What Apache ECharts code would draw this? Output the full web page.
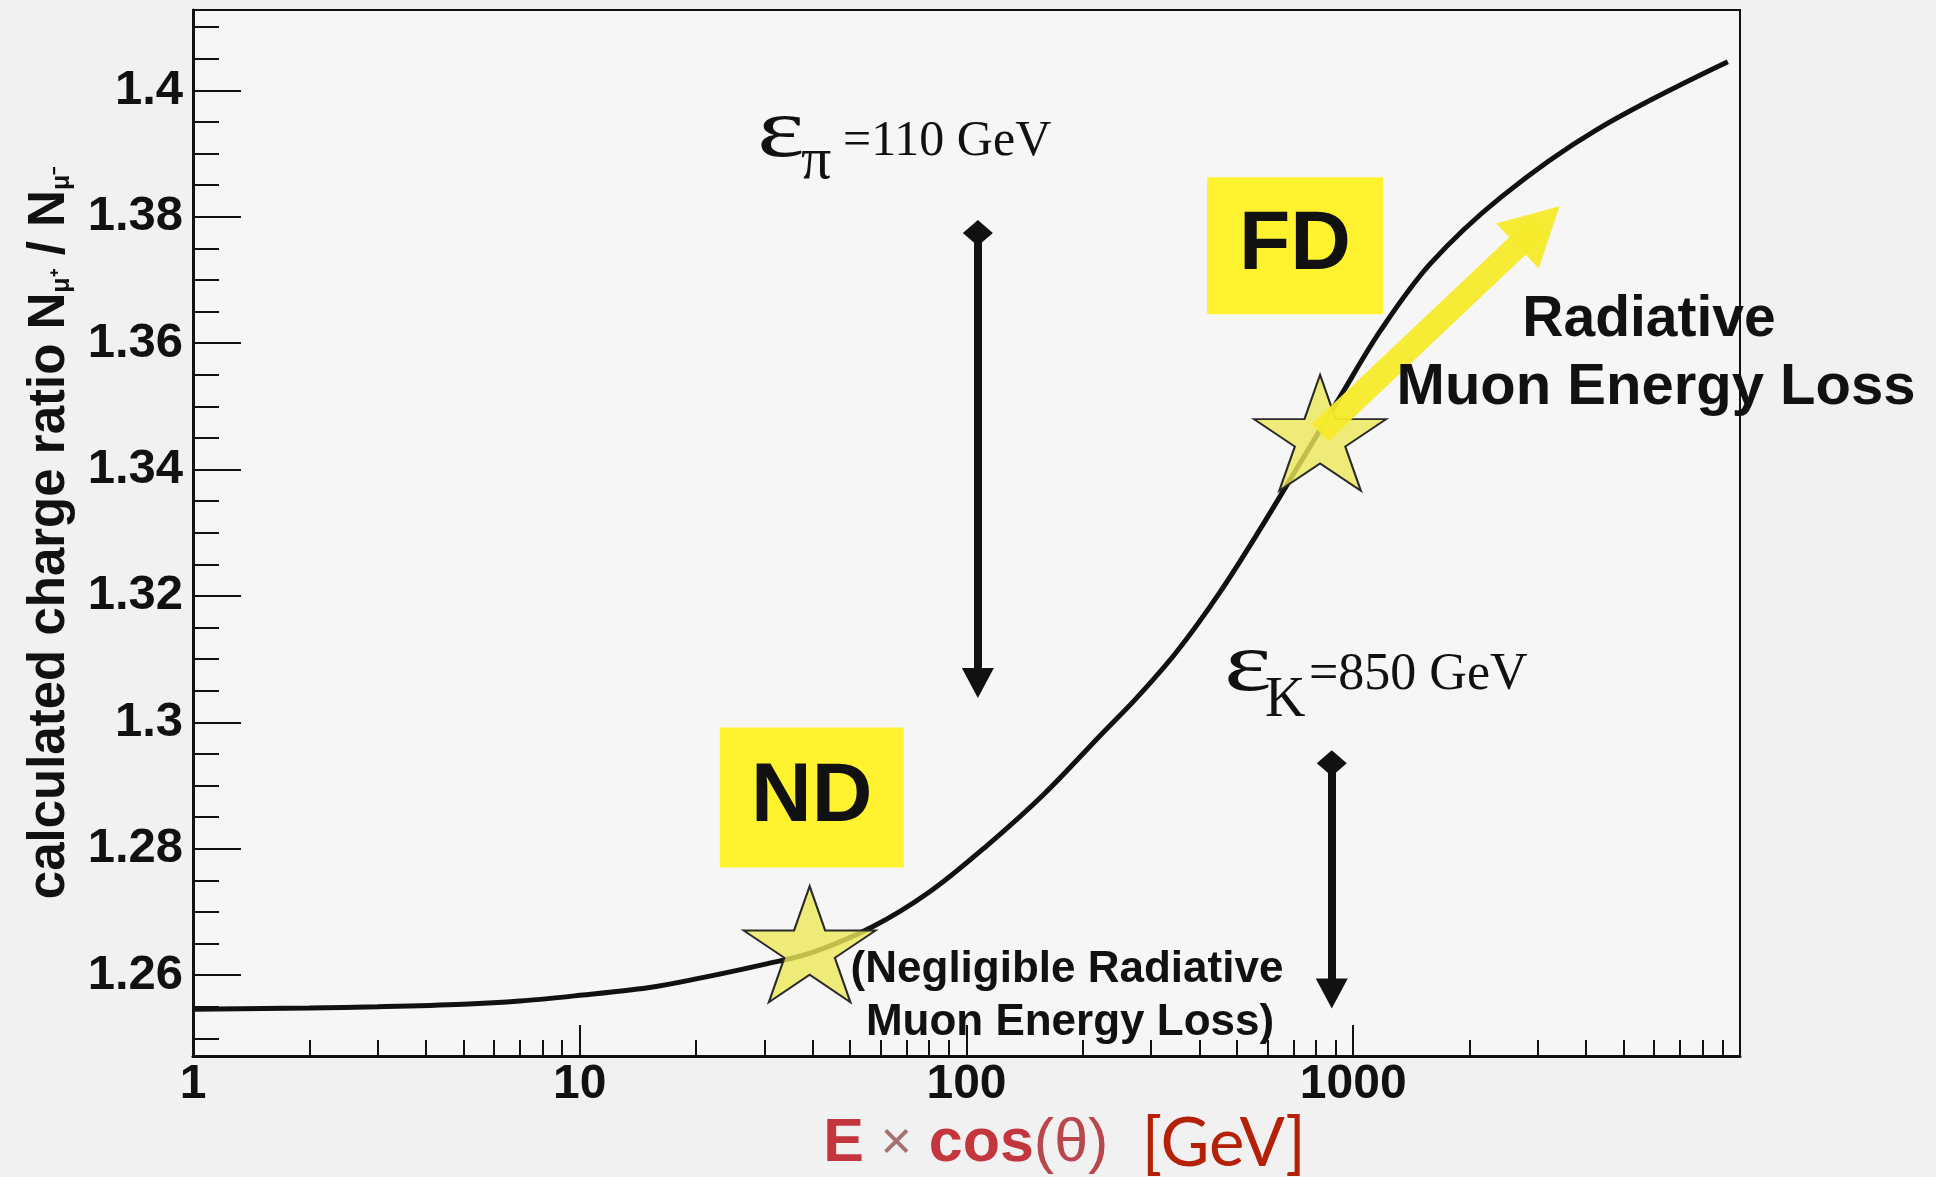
<!DOCTYPE html>
<html>
<head>
<meta charset="utf-8">
<script src="https://cdn.jsdelivr.net/npm/echarts@6/dist/echarts.min.js"></script>
<style>
html,body{margin:0;padding:0;background:#F1F1F1;}
#chart{width:1936px;height:1177px;}
</style>
</head>
<body>
<div id="chart"></div>
<script>
// ---- data ----
const energies = [1, 2, 3, 5, 7, 10, 15, 20, 30, 40, 57, 80, 113, 159, 224, 274, 350, 450, 575, 730, 927, 1177, 1585, 2411, 4246, 9300];
const chargeRatio = [1.2546, 1.2548, 1.2550, 1.2554, 1.2559, 1.2568, 1.2580, 1.2594, 1.2617, 1.2636, 1.2676, 1.2731, 1.2805, 1.2887, 1.2982, 1.3037, 1.3112, 1.3204, 1.3306, 1.3411, 1.3516, 1.3620, 1.3726, 1.3831, 1.3937, 1.4045];

const xTickLabels = [1, 10, 100, 1000];
const xMinorTicks = [2, 3, 4, 5, 6, 7, 8, 9, 20, 30, 40, 50, 60, 70, 80, 90, 200, 300, 400, 500, 600, 700, 800, 900, 2000, 3000, 4000, 5000, 6000, 7000, 8000, 9000];
const yTickLabels = [1.26, 1.28, 1.3, 1.32, 1.34, 1.36, 1.38, 1.4];
const yMinorTicks = [1.25, 1.255, 1.265, 1.27, 1.275, 1.285, 1.29, 1.295, 1.305, 1.31, 1.315, 1.325, 1.33, 1.335, 1.345, 1.35, 1.355, 1.365, 1.37, 1.375, 1.385, 1.39, 1.395, 1.405, 1.41];

const detectorNames = ['ND', 'FD'];
const detectorBoxes = [[39.8, 1.2881], [707, 1.3754]];
const detectorStars = [[39.3, 1.2649], [820.7, 1.3458]];
const criticalEnergyX = [107, 880];
const criticalArrowTop = [1.3774, 1.2935];
const criticalArrowBottom = [1.3062, 1.2571];
const radiativeArrowFrom = [820.7, 1.3458];
const radiativeArrowTo = [3013, 1.3785];

// ---- chart ----
const SANS = '"Liberation Sans", Arial, sans-serif';
const SERIF = '"Liberation Serif", "Times New Roman", serif';
const starPath = 'path://M50,0 L61.23,34.55 L97.55,34.55 L68.17,55.9 L79.39,90.45 L50,69.1 L20.61,90.45 L31.83,55.9 L2.45,34.55 L38.77,34.55 Z';
const boxSizes = [[184, 140], [176, 137]];

const chart = echarts.init(document.getElementById('chart'), null, {renderer: 'canvas'});

function txt(text, x, y, font, align, sx) {
  return {type: 'text', x: x, y: y, scaleX: sx || 1, silent: true, z: 100,
    style: {text: text, font: font, fill: '#111', align: align || 'left', verticalAlign: 'middle'}};
}

const option = {
  animation: false,
  backgroundColor: '#F1F1F1',
  grid: {left: 193, right: 196, top: 10, bottom: 121, show: true, backgroundColor: '#F6F6F6',
         borderColor: '#111', borderWidth: 2, containLabel: false, outerBoundsMode: 'none'},
  xAxis: [
    {
      type: 'log', logBase: 10, min: 1, max: 10000,
      axisLine: {show: true, onZero: false, lineStyle: {color: '#111', width: 3}},
      axisTick: {show: true, inside: true, length: 31, lineStyle: {color: '#111', width: 2}},
      minorTick: {show: false},
      splitLine: {show: false},
      axisLabel: {show: true, margin: 5, color: '#111', fontFamily: SANS, fontWeight: 'bold', fontSize: 48,
        formatter: function (v) { return xTickLabels.indexOf(v) >= 0 ? String(v) : ''; }},
      name: '{a|E} {b|×} {a|cos}{c|(θ)}  {d|[GeV]}',
      nameLocation: 'middle', nameGap: 55, nameMoveOverlap: false,
      nameTextStyle: {fontSize: 60, fontFamily: SANS, color: '#C0343C', padding: [0, 0, 0, 196],
        rich: {
          a: {fontSize: 61, fontWeight: 'bold', fontFamily: SANS, color: '#C4363E'},
          b: {fontSize: 54, fontFamily: SANS, color: '#A87070'},
          c: {fontSize: 61, fontFamily: SANS, color: '#B8474E'},
          d: {fontSize: 67, fontFamily: 'Lato, "Open Sans", sans-serif', color: '#B42008'}
        }}
    },
    {
      type: 'value', min: 0, max: 4, position: 'bottom',
      axisLine: {show: false, onZero: false},
      axisTick: {show: true, inside: true, length: 16, lineStyle: {color: '#111', width: 2},
        customValues: xMinorTicks.map(function (v) { return Math.log10(v); })},
      axisLabel: {show: false},
      splitLine: {show: false}
    }
  ],
  yAxis: [
    {
      type: 'value', min: 1.2472, max: 1.4127, position: 'left',
      axisLine: {show: true, onZero: false, lineStyle: {color: '#111', width: 3}},
      axisTick: {show: true, inside: true, length: 48, lineStyle: {color: '#111', width: 2}, customValues: yTickLabels},
      splitLine: {show: false},
      axisLabel: {show: true, margin: 10, color: '#111', fontFamily: SANS, fontWeight: 'bold', fontSize: 49,
        customValues: yTickLabels,
        formatter: function (v) { return String(+(+v).toFixed(2)); }},
      name: 'calculated charge ratio N{s|μ⁺} / N{s|μ⁻}',
      nameLocation: 'middle', nameRotate: 90, nameGap: 118, nameMoveOverlap: false,
      nameTextStyle: {fontSize: 51, fontWeight: 'bold', fontFamily: SANS, color: '#111',
        rich: {s: {fontSize: 25, fontWeight: 'bold', fontFamily: SANS, color: '#111', verticalAlign: 'bottom'}}}
    },
    {
      type: 'value', min: 1.2472, max: 1.4127, position: 'left',
      axisLine: {show: false, onZero: false},
      axisTick: {show: true, inside: true, length: 26, lineStyle: {color: '#111', width: 2}, customValues: yMinorTicks},
      axisLabel: {show: false},
      splitLine: {show: false}
    }
  ],
  series: [
    {
      type: 'scatter', name: 'detector', xAxisIndex: 0, yAxisIndex: 0, silent: true, z: 1,
      symbol: 'rect',
      data: detectorBoxes.map(function (p, i) { return {value: p, name: detectorNames[i], symbolSize: boxSizes[i]}; }),
      itemStyle: {color: '#FFF22E', opacity: 1},
      label: {show: true, position: 'inside', formatter: '{b}', color: '#111', opacity: 1,
        fontFamily: SANS, fontWeight: 'bold', fontSize: 84}
    },
    {
      type: 'line', name: 'charge ratio', xAxisIndex: 0, yAxisIndex: 0, silent: true, z: 3,
      data: energies.map(function (e, i) { return [e, chargeRatio[i]]; }),
      symbol: 'none', smooth: 0.35,
      lineStyle: {color: '#111', width: 5},
      markLine: {
        silent: true, z: 6, symbol: ['diamond', 'triangle'], symbolSize: 30,
        label: {show: false},
        lineStyle: {color: '#111', width: 8, type: 'solid'},
        data: criticalEnergyX.map(function (x, i) {
          return [{coord: [x, criticalArrowTop[i]], symbol: 'diamond', symbolSize: [30, 26]},
                  {coord: [x, criticalArrowBottom[i]], symbol: 'triangle', symbolSize: [32, 30]}];
        })
      }
    },
    {
      type: 'scatter', name: 'stars', xAxisIndex: 0, yAxisIndex: 0, silent: true, z: 4,
      symbol: starPath, symbolSize: [132, 116],
      data: detectorStars,
      itemStyle: {color: 'rgba(238,232,90,0.8)', borderColor: '#2a2a2a', borderWidth: 2, opacity: 1},
      markLine: {
        silent: true, z: 5, symbol: ['none', 'triangle'], symbolSize: 60,
        label: {show: false},
        lineStyle: {color: '#F6EB2A', width: 24, type: 'solid', opacity: 0.95},
        data: [[{coord: radiativeArrowFrom, symbol: 'none', symbolSize: 1},
                {coord: radiativeArrowTo, symbol: 'triangle', symbolSize: [62, 58]}]]
      }
    }
  ],
  graphic: [
    txt('ε', 757, 134, '84px ' + SERIF, 'left', 1.35),
    txt('π', 801, 162, '60px ' + SERIF),
    txt('=110 GeV', 843, 142, '50px ' + SERIF),
    txt('ε', 1224, 668, '84px ' + SERIF, 'left', 1.35),
    txt('K', 1265, 701, '56px ' + SERIF),
    txt('=850 GeV', 1309, 675, '52px ' + SERIF),
    txt('Radiative', 1649, 320, 'bold 57px ' + SANS, 'center'),
    txt('Muon Energy Loss', 1656, 388, 'bold 58px ' + SANS, 'center'),
    txt('(Negligible Radiative', 1067, 970, 'bold 44px ' + SANS, 'center'),
    txt('Muon Energy Loss)', 1070, 1023, 'bold 44px ' + SANS, 'center')
  ]
};
chart.setOption(option);
</script>
</body>
</html>
